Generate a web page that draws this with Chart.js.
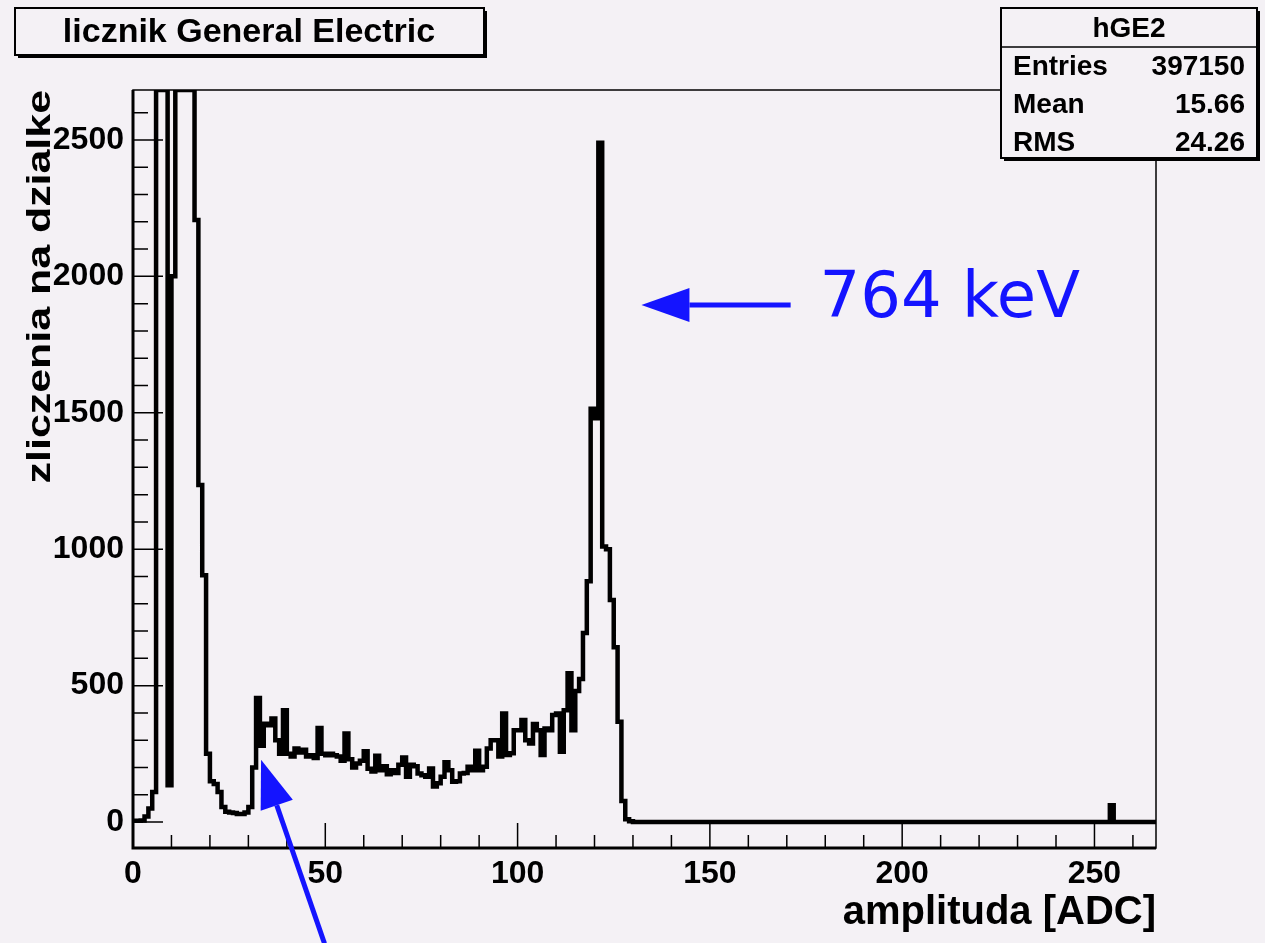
<!DOCTYPE html>
<html>
<head>
<meta charset="utf-8">
<script src="https://cdn.jsdelivr.net/npm/chart.js@4/dist/chart.umd.min.js"></script>
<style>
  html, body { margin: 0; padding: 0; background: #f4f1f5; }
  canvas { display: block; }
</style>
</head>
<body>
<canvas id="myChart" width="1265" height="943"></canvas>
<script>
// hGE2 - counts per ADC channel (bins of width 1)
// bins that run off the top of the frame are given the frame maximum
const countsLow = [
  5, 5, 6, 20, 50, 110, 2683, 2683, 2683, 135,
  2000, 2683, 2683, 2683, 2683, 2683, 2207, 1235, 905, 250,
  150, 140, 110, 55, 38, 35, 33, 30, 30, 35,
  55, 200, 455, 280, 360, 355, 380, 300, 250, 410,
  250, 240, 270, 255, 265, 240, 245, 235, 345, 250,
  245, 250, 245, 240, 225, 325, 230, 200, 215, 225,
  260, 195, 185, 243, 190, 205, 175, 190, 180, 210,
  237, 166, 210, 205, 178, 172, 166, 196, 130, 142,
  166, 219, 190, 148, 150, 178, 180, 203, 190, 261,
  190, 203, 270, 300, 300, 240, 398, 246, 252, 337,
  337, 374, 300, 288, 359, 337, 246, 343, 337, 392,
  398, 258, 410, 545, 337, 480, 524, 693, 883, 1515,
  1480, 2490, 1010, 1000, 814, 641, 368, 77, 10, 3
];
const countsHigh = [
  0, 0, 0, 0, 0, 0, 0, 0, 0, 0,
  0, 0, 0, 0, 0, 0, 0, 0, 0, 0,
  0, 0, 0, 0, 0, 0, 0, 0, 0, 0,
  0, 0, 0, 0, 0, 0, 0, 0, 0, 0,
  0, 0, 0, 0, 0, 0, 0, 0, 0, 0,
  0, 0, 0, 0, 0, 0, 0, 0, 0, 0,
  0, 0, 0, 0, 0, 0, 0, 0, 0, 0,
  0, 0, 0, 0, 0, 0, 0, 0, 0, 0,
  0, 0, 0, 0, 0, 0, 0, 0, 0, 0,
  0, 0, 0, 0, 0, 0, 0, 0, 0, 0,
  0, 0, 0, 0, 0, 0, 0, 0, 0, 0,
  0, 0, 0, 0, 0, 0, 0, 0, 0, 0,
  0, 0, 0, 0, 62, 0, 0, 0, 0, 0,
  0, 0, 0, 0, 0, 0
];
const xTicks = [0, 50, 100, 150, 200, 250];
const yTicks = [0, 500, 1000, 1500, 2000, 2500];
const statsRows = [['Entries', '397150'], ['Mean', '15.66'], ['RMS', '24.26']];

const counts = countsLow.concat(countsHigh);
const histPts = counts.map(function(c, i) { return {x: i, y: c}; });
histPts.push({x: counts.length, y: counts[counts.length - 1]});

const BG = '#f4f1f5';
const BLUE = '#1414ff';
const rootFont = '"Liberation Sans", Arial, Helvetica, sans-serif';

function arrow(ctx, x1, y1, x2, y2) {
  var ang = Math.atan2(y2 - y1, x2 - x1);
  var hl = 48, hw = 17;
  var bx = x2 - hl * Math.cos(ang), by = y2 - hl * Math.sin(ang);
  ctx.save();
  ctx.strokeStyle = BLUE;
  ctx.fillStyle = BLUE;
  ctx.lineWidth = 5;
  ctx.beginPath();
  ctx.moveTo(x1, y1);
  ctx.lineTo(bx, by);
  ctx.stroke();
  ctx.beginPath();
  ctx.moveTo(x2, y2);
  ctx.lineTo(bx + hw * Math.sin(ang), by - hw * Math.cos(ang));
  ctx.lineTo(bx - hw * Math.sin(ang), by + hw * Math.cos(ang));
  ctx.closePath();
  ctx.fill();
  ctx.restore();
}

function box(ctx, x, y, w, h) {
  ctx.fillStyle = '#000';
  ctx.fillRect(x + 3, y + 3, w, h);
  ctx.fillStyle = BG;
  ctx.fillRect(x, y, w, h);
  ctx.strokeStyle = '#000';
  ctx.lineWidth = 2;
  ctx.strokeRect(x, y, w, h);
  ctx.fillStyle = '#000';
}

const rootPlugin = {
  id: 'rootLook',
  beforeDraw: function(chart) {
    var ctx = chart.ctx;
    ctx.save();
    ctx.fillStyle = BG;
    ctx.fillRect(0, 0, chart.width, chart.height);
    ctx.restore();
  },
  beforeDatasetsDraw: function(chart) {
    var ctx = chart.ctx, a = chart.chartArea;
    var xs = chart.scales.x, ys = chart.scales.y;
    ctx.save();
    ctx.strokeStyle = '#000';
    // frame
    ctx.lineWidth = 1.5;
    ctx.strokeRect(a.left, a.top, a.right - a.left, a.bottom - a.top);
    ctx.lineWidth = 3;
    ctx.beginPath();
    ctx.moveTo(a.left, a.top);
    ctx.lineTo(a.left, a.bottom);
    ctx.lineTo(a.right, a.bottom);
    ctx.stroke();
    // tick marks pointing into the frame
    ctx.lineWidth = 1.5;
    ctx.beginPath();
    for (var v = 0; v <= ys.max; v += 100) {
      var py = ys.getPixelForValue(v);
      var len = (v % 500 === 0) ? 30 : 15;
      ctx.moveTo(a.left, py);
      ctx.lineTo(a.left + len, py);
    }
    for (var u = 0; u <= xs.max; u += 10) {
      var px = xs.getPixelForValue(u);
      var l2 = (u % 50 === 0) ? 25 : 13;
      ctx.moveTo(px, a.bottom);
      ctx.lineTo(px, a.bottom - l2);
    }
    ctx.stroke();

    // y axis title, stretched along its length like the ROOT output
    ctx.fillStyle = '#000';
    ctx.translate(50, a.top);
    ctx.rotate(-Math.PI / 2);
    ctx.scale(1.3, 1);
    ctx.font = 'bold 33px ' + rootFont;
    ctx.textAlign = 'right';
    ctx.textBaseline = 'alphabetic';
    ctx.fillText('zliczenia na dzialke', 0, 0);
    ctx.restore();
  },
  afterDraw: function(chart) {
    var ctx = chart.ctx;
    var xs = chart.scales.x, ys = chart.scales.y;
    ctx.save();
    // title box
    box(ctx, 15, 8, 469, 47);
    ctx.font = 'bold 34px ' + rootFont;
    ctx.textAlign = 'center';
    ctx.textBaseline = 'middle';
    ctx.fillText('licznik General Electric', 249, 33);

    // stats box
    box(ctx, 1001, 8, 256, 150);
    ctx.lineWidth = 1.5;
    ctx.beginPath();
    ctx.moveTo(1001, 47);
    ctx.lineTo(1257, 47);
    ctx.stroke();
    ctx.font = 'bold 28px ' + rootFont;
    ctx.fillText('hGE2', 1129, 29);
    statsRows.forEach(function(r, i) {
      var yy = 67 + i * 38;
      ctx.textAlign = 'left';
      ctx.fillText(r[0], 1013, yy);
      ctx.textAlign = 'right';
      ctx.fillText(r[1], 1245, yy);
    });

    // annotations, placed in data units
    arrow(ctx, xs.getPixelForValue(171), ys.getPixelForValue(1895),
               xs.getPixelForValue(132.2), ys.getPixelForValue(1895));
    arrow(ctx, xs.getPixelForValue(49.8), ys.getPixelForValue(-445),
               xs.getPixelForValue(33.3), ys.getPixelForValue(228));
    ctx.fillStyle = BLUE;
    ctx.font = '64px "DejaVu Sans", sans-serif';
    ctx.textAlign = 'left';
    ctx.textBaseline = 'alphabetic';
    ctx.fillText('764 keV', xs.getPixelForValue(178.5), ys.getPixelForValue(1850));
    ctx.restore();
  }
};

const ctx = document.getElementById('myChart').getContext('2d');
const chart = new Chart(ctx, {
  type: 'line',
  data: {
    datasets: [{
      label: 'hGE2',
      data: histPts,
      stepped: 'before',
      borderColor: '#000',
      borderWidth: 4.5,
      borderJoinStyle: 'miter',
      pointRadius: 0,
      fill: false
    }]
  },
  options: {
    responsive: false,
    animation: false,
    layout: { padding: { top: 90, right: 109, left: 0, bottom: 0 } },
    plugins: {
      legend: { display: false },
      tooltip: { enabled: false }
    },
    scales: {
      x: {
        type: 'linear',
        min: 0,
        max: 266,
        afterFit: function(s) { s.height = 95; },
        afterBuildTicks: function(s) { s.ticks = xTicks.map(function(v) { return {value: v}; }); },
        grid: { display: false, drawTicks: false },
        border: { display: false },
        ticks: {
          color: '#000',
          font: { family: rootFont, size: 32, weight: 'bold' },
          padding: 7,
          maxRotation: 0,
          autoSkip: false,
          callback: function(v) { return String(v); }
        },
        title: {
          display: true,
          text: 'amplituda [ADC]',
          align: 'end',
          color: '#000',
          font: { family: rootFont, size: 40, weight: 'bold' },
          padding: { top: 0, bottom: 6 }
        }
      },
      y: {
        type: 'linear',
        min: -95,
        max: 2683,
        afterFit: function(s) { s.width = 133; },
        afterBuildTicks: function(s) { s.ticks = yTicks.map(function(v) { return {value: v}; }); },
        grid: { display: false, drawTicks: false },
        border: { display: false },
        ticks: {
          color: '#000',
          font: { family: rootFont, size: 32, weight: 'bold' },
          padding: 9,
          autoSkip: false,
          callback: function(v) { return String(v); }
        }
      }
    }
  },
  plugins: [rootPlugin]
});
</script>
</body>
</html>
